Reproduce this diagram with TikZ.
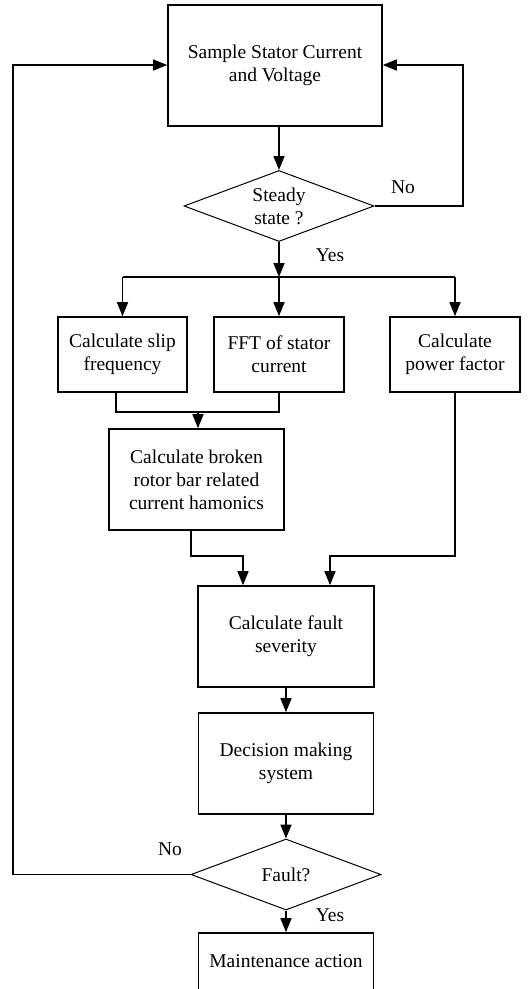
\documentclass[tikz,border=0pt]{standalone}
\usepackage{fontspec}
\setmainfont{Liberation Serif}
\usetikzlibrary{arrows.meta,shapes.geometric}
\begin{document}
\begin{tikzpicture}[x=1pt,y=-1pt,
  txt/.style={font=\fontsize{19.5}{23}\selectfont},
  box/.style={txt,draw,line width=1.6pt,align=center,inner sep=0pt},
  dec/.style={txt,draw,diamond,aspect=2.68,line width=1pt,align=center,inner sep=0pt,minimum width=190pt,minimum height=71pt},
  lbl/.style={txt,inner sep=0pt},
  conn/.style={line width=1.5pt},
  arr/.style={conn,-{Triangle[length=14pt,width=11pt]}}]
\useasboundingbox (0,0) rectangle (532,989);
\node[box,minimum width=214pt,minimum height=121pt] (sample) at (275,65.5) {Sample Stator Current\\and Voltage};
\node[dec] (steady) at (279,206) {Steady\\state ?};
\node[box,minimum width=129pt,minimum height=75pt] (b1) at (122.5,354.5) {Calculate slip\\frequency};
\node[box,minimum width=130pt,minimum height=75pt] (b2) at (279,354.5) {FFT of stator\\current};
\node[box,minimum width=130pt,minimum height=75pt] (b3) at (455,354.5) {Calculate\\power factor};
\node[box,minimum width=175pt,minimum height=101pt] (b4) at (196.5,479.5) {Calculate broken\\rotor bar related\\current hamonics};
\node[box,minimum width=176pt,minimum height=101pt] (b5) at (286,636.5) {Calculate fault\\severity};
\node[box,minimum width=175pt,minimum height=101pt] (b6) at (286,763.5) {Decision making\\system};
\node[dec] (fault) at (286,874.5) {Fault?};
\node[box,minimum width=175pt,minimum height=57pt] (b7) at (286,961.5) {Maintenance action};
\node[lbl] (no1) at (403,187) {No};
\node[lbl] (yes1) at (330,255) {Yes};
\node[lbl] (no2) at (170,849) {No};
\node[lbl] (yes2) at (330,915) {Yes};
\coordinate (split) at (279,277);
\coordinate (m) at (198,412);
\coordinate (j1) at (243,556);
\coordinate (j2) at (330,556);
\coordinate (r) at (463,65);
\coordinate (l) at (13,65);
\draw[arr] (sample.south -| steady.north) -- (steady.north);
\draw[arr] (steady.south) -- (split);
\draw[conn] (split -| b1.north) -- (split -| b3.north);
\draw[arr] (split -| b1.north) -- (b1.north);
\draw[arr] (split) -- (b2.north);
\draw[arr] (split -| b3.north) -- (b3.north);
\draw[conn] ([xshift=-6.5pt]b1.south) |- (m) -| (b2.south);
\draw[arr] (m) -- (m |- b4.north);
\draw[arr] ([xshift=-5.5pt]b4.south) |- (j1) -- (j1 |- b5.north);
\draw[arr] (b3.south) |- (j2) -- (j2 |- b5.north);
\draw[arr] (b5.south) -- (b6.north);
\draw[arr] (b6.south) -- (fault.north);
\draw[arr] (fault.south) -- (b7.north);
\draw[arr] (steady.east) -| (r) -- (r -| sample.east);
\draw[arr] (fault.west) -| (l) -- (l -| sample.west);
\end{tikzpicture}
\end{document}
